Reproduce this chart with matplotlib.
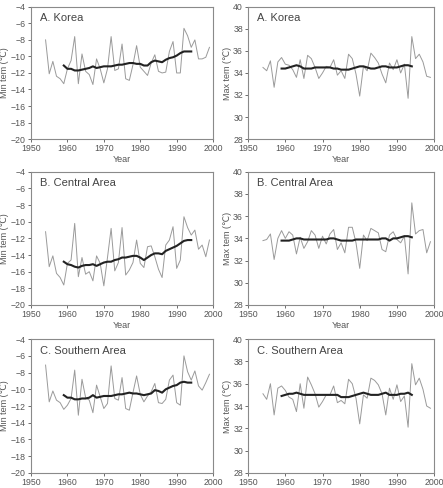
import numpy as np
import matplotlib.pyplot as plt

plt.rcParams['font.family'] = ['Liberation Sans', 'DejaVu Sans']

# years of the annual series and of the smoothed (running mean) curve
years = list(range(1954, 2000))
years_smooth = list(range(1959, 1995))

# A. Korea
korea_min = [-8.0, -12.1, -10.6, -12.4, -12.7, -13.3, -11.5, -10.5, -7.6, -13.3,
             -9.7, -11.8, -12.2, -13.4, -10.3, -11.5, -13.2, -11.5, -7.6, -11.7,
             -11.5, -8.5, -12.7, -12.9, -11.0, -8.7, -11.3, -11.8, -12.3, -10.8,
             -9.8, -11.8, -12.0, -11.9, -9.4, -8.2, -12.0, -12.0, -6.6, -7.5,
             -8.9, -8.0, -10.3, -10.3, -10.1, -8.9]
korea_min_smooth = [-11.1, -11.5, -11.5, -11.7, -11.7, -11.6, -11.5, -11.4, -11.2, -11.4,
                    -11.3, -11.2, -11.2, -11.2, -11.1, -11.0, -11.0, -10.9, -10.8, -10.8,
                    -10.9, -10.9, -11.1, -11.1, -10.7, -10.5, -10.6, -10.7, -10.4, -10.2,
                    -10.1, -9.9, -9.6, -9.4, -9.4, -9.4]
korea_max = [34.5, 34.2, 35.1, 32.7, 35.0, 35.4, 34.8, 34.7, 34.3, 33.6,
             35.2, 33.5, 35.6, 35.3, 34.5, 33.5, 34.0, 34.6, 34.5, 35.2,
             33.8, 34.2, 33.5, 35.7, 35.3, 33.9, 31.9, 34.6, 34.2, 35.8,
             35.4, 34.9, 33.9, 33.1, 34.9, 34.3, 35.2, 34.0, 34.8, 31.7,
             37.3, 35.3, 35.7, 35.0, 33.7, 33.6]
korea_max_smooth = [34.4, 34.4, 34.5, 34.6, 34.7, 34.6, 34.4, 34.4, 34.4, 34.5,
                    34.5, 34.5, 34.5, 34.5, 34.4, 34.4, 34.3, 34.3, 34.3, 34.4,
                    34.5, 34.6, 34.6, 34.5, 34.4, 34.4, 34.5, 34.6, 34.6, 34.5,
                    34.5, 34.5, 34.6, 34.7, 34.7, 34.6]

# B. Central Area
central_min = [-11.2, -15.4, -14.1, -16.2, -16.7, -17.6, -15.0, -14.6, -10.2, -16.6,
               -14.3, -16.3, -16.0, -17.1, -14.1, -15.0, -17.7, -14.3, -10.8, -15.9,
               -14.9, -10.7, -16.4, -15.8, -14.9, -12.2, -15.0, -15.5, -13.0, -12.9,
               -14.2, -15.7, -16.7, -12.8, -12.2, -10.6, -15.6, -14.6, -9.4, -10.7,
               -11.6, -11.0, -13.3, -12.8, -14.2, -12.2]
central_min_smooth = [-14.8, -15.1, -15.2, -15.4, -15.5, -15.3, -15.2, -15.2, -15.1, -15.3,
                      -15.1, -14.9, -14.8, -14.8, -14.6, -14.5, -14.3, -14.3, -14.2, -14.1,
                      -14.1, -14.3, -14.6, -14.3, -14.0, -13.8, -13.8, -13.9, -13.5, -13.3,
                      -13.1, -12.9, -12.6, -12.3, -12.2, -12.2]
central_max = [33.8, 33.9, 34.4, 32.1, 34.0, 34.7, 34.0, 34.6, 34.3, 32.6,
               34.1, 33.1, 33.7, 34.7, 34.3, 33.1, 34.2, 33.5, 34.4, 34.8,
               33.0, 33.6, 32.7, 35.0, 35.0, 33.6, 31.3, 34.3, 33.8, 34.9,
               34.7, 34.5, 33.0, 32.8, 34.3, 34.6, 33.9, 33.6, 34.2, 30.8,
               37.2, 34.4, 34.7, 34.8, 32.7, 33.7]
central_max_smooth = [33.8, 33.8, 33.8, 33.9, 34.0, 34.0, 33.9, 33.9, 33.9, 33.9,
                      33.9, 33.9, 33.9, 34.0, 34.0, 33.9, 33.8, 33.8, 33.8, 33.8,
                      33.9, 33.9, 33.9, 33.9, 33.9, 33.9, 33.9, 34.0, 34.0, 33.8,
                      34.0, 34.0, 34.1, 34.2, 34.2, 34.1]

# C. Southern Area
south_min = [-7.1, -11.5, -10.2, -11.3, -11.6, -12.4, -11.9, -11.1, -7.7, -13.1,
             -8.8, -11.0, -11.3, -12.8, -9.5, -10.9, -12.3, -11.7, -7.2, -11.1,
             -11.3, -8.6, -12.3, -12.5, -10.4, -8.4, -10.6, -11.5, -10.8, -10.3,
             -9.3, -11.6, -11.7, -11.2, -8.9, -8.3, -11.6, -11.9, -6.0, -7.9,
             -8.9, -7.8, -9.6, -10.1, -9.2, -8.2]
south_min_smooth = [-10.7, -11.0, -11.0, -11.2, -11.2, -11.1, -11.1, -11.0, -10.7, -11.0,
                    -10.9, -10.8, -10.8, -10.8, -10.7, -10.6, -10.6, -10.5, -10.4, -10.5,
                    -10.5, -10.6, -10.7, -10.6, -10.5, -10.1, -10.2, -10.4, -10.0, -9.8,
                    -9.6, -9.5, -9.2, -9.1, -9.2, -9.2]
south_max = [35.1, 34.6, 36.0, 33.2, 35.6, 35.8, 35.4, 34.8, 34.6, 33.5,
             36.0, 33.8, 36.6, 35.9, 35.1, 33.9, 34.4, 35.0, 35.0, 35.8,
             34.3, 34.5, 34.2, 36.4, 36.0, 34.7, 32.4, 35.0, 34.7, 36.5,
             36.3, 35.9, 35.1, 33.2, 35.6, 34.6, 35.9, 34.4, 34.9, 32.1,
             37.8, 35.9, 36.5, 35.5, 34.0, 33.8]
south_max_smooth = [34.9, 35.0, 35.1, 35.1, 35.2, 35.1, 35.0, 35.0, 35.0, 35.0,
                    35.0, 35.0, 35.0, 35.0, 35.0, 35.0, 34.8, 34.8, 34.8, 34.9,
                    35.0, 35.1, 35.2, 35.1, 35.0, 35.0, 35.0, 35.1, 35.2, 35.0,
                    35.0, 35.0, 35.1, 35.1, 35.2, 35.0]

titles = ['A. Korea', 'B. Central Area', 'C. Southern Area']
min_series = [(korea_min, korea_min_smooth), (central_min, central_min_smooth), (south_min, south_min_smooth)]
max_series = [(korea_max, korea_max_smooth), (central_max, central_max_smooth), (south_max, south_max_smooth)]

fig = plt.figure(figsize=(4.43, 4.88), dpi=100)

# posiciones de las filas (bottom, top) en fraccion de figura
rows = [(0.715, 0.986), (0.375, 0.648), (0.031, 0.305)]
cols = [(0.070, 0.481), (0.560, 0.980)]


def panel(ax, raw, smooth, title, ylim, yticks, ylabel):
    ax.plot(years, raw, color='#9a9a9a', lw=0.7)
    ax.plot(years_smooth, smooth, color='#222222', lw=1.5)
    ax.set_xlim(1950, 2000)
    ax.set_ylim(*ylim)
    ax.set_xticks(range(1950, 2001, 10))
    ax.set_yticks(yticks)
    ax.tick_params(labelsize=6.3, length=2.5, width=0.6, colors='#555555', pad=1.2)
    for s in ax.spines.values():
        s.set_color('#8a8a8a')
        s.set_linewidth(0.8)
    ax.text(0.05, 0.95, title, transform=ax.transAxes, fontsize=8, color='#444444',
            va='top', ha='left')
    ax.set_xlabel('Year', fontsize=6.5, color='#555555', labelpad=1.5)
    ax.set_ylabel(ylabel, fontsize=6.5, color='#555555', labelpad=1)


for i in range(3):
    b, t = rows[i]
    l, r = cols[0]
    ax = fig.add_axes([l, b, r - l, t - b])
    panel(ax, min_series[i][0], min_series[i][1], titles[i], (-20, -4),
          range(-20, -3, 2), 'Min tem (\u2103)')
    l, r = cols[1]
    ax = fig.add_axes([l, b, r - l, t - b])
    panel(ax, max_series[i][0], max_series[i][1], titles[i], (28, 40),
          range(28, 41, 2), 'Max tem (\u2103)')

fig.savefig('out.png', dpi=100)
